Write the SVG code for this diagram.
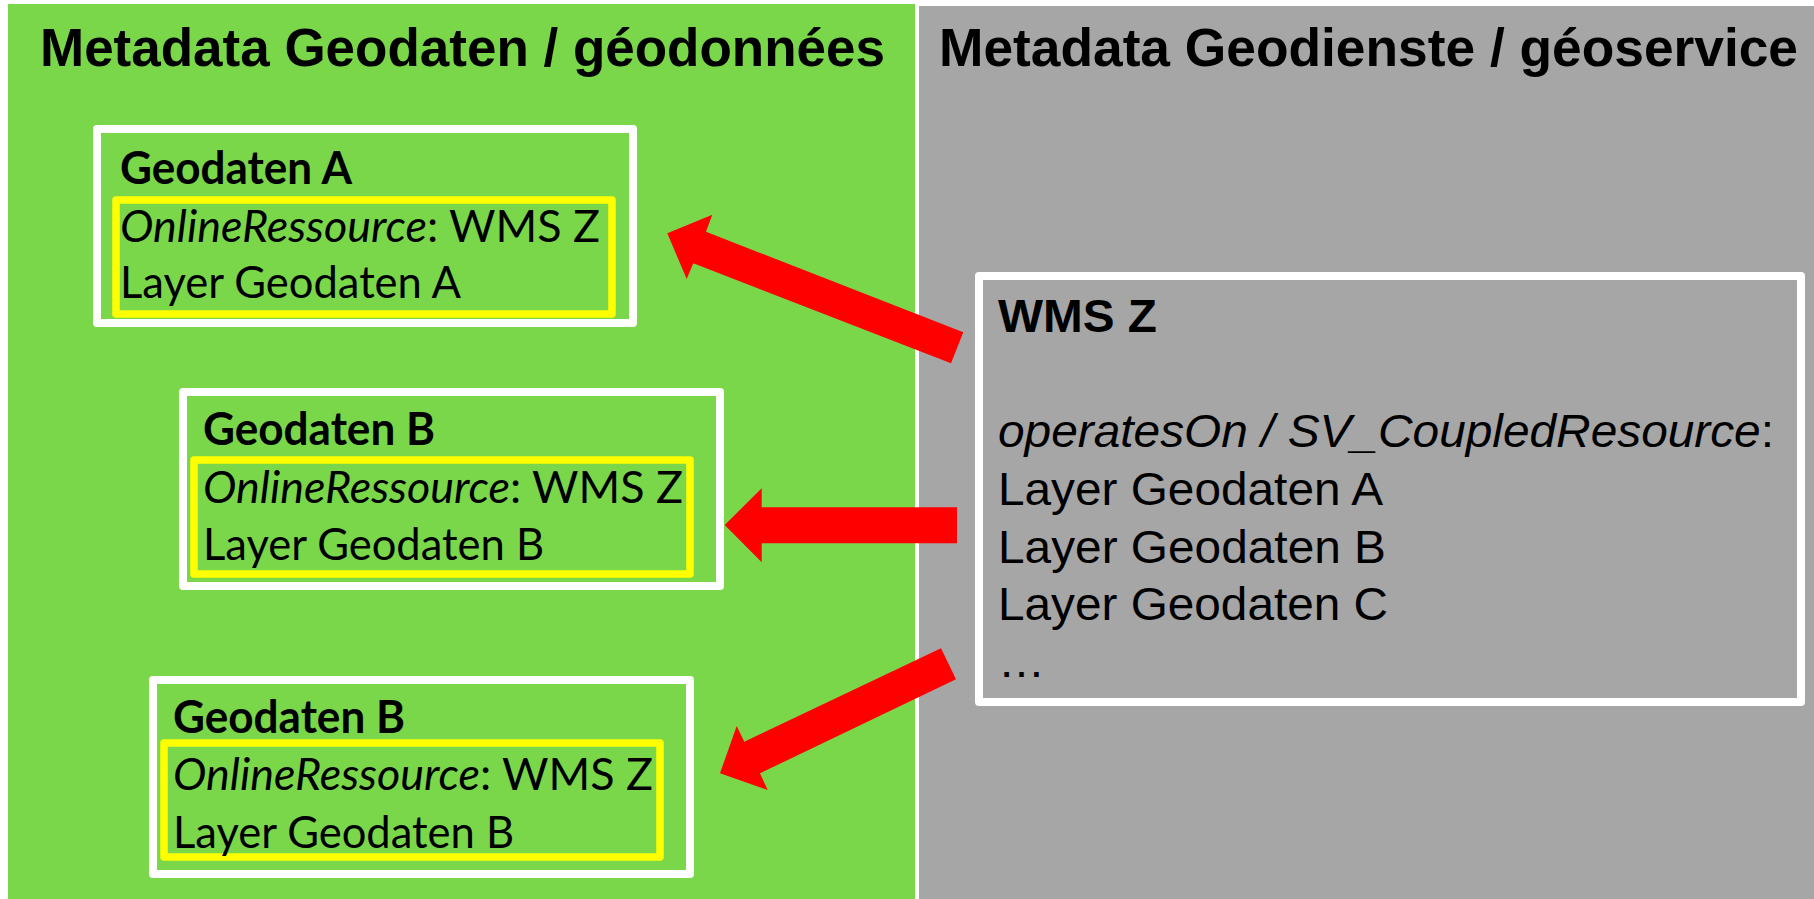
<svg xmlns="http://www.w3.org/2000/svg" width="1814" height="899" viewBox="0 0 1814 899">
<defs>
<style>
.title{font-family:"Liberation Sans",Arial,sans-serif;font-weight:bold;font-size:54px;fill:#000}
.wb{fill:none;stroke:#fff;stroke-width:8;stroke-linejoin:round}
.yb{fill:none;stroke:#ffff00;stroke-width:7.5;stroke-linejoin:round}
.cal{font-family:Lato,"Open Sans",sans-serif;font-size:45px;fill:#000}
.calb{font-family:Lato,"Open Sans",sans-serif;font-size:45px;font-weight:bold;fill:#000}
.ar{font-family:"Liberation Sans",Arial,sans-serif;font-size:47px;fill:#000}
.arb{font-family:"Liberation Sans",Arial,sans-serif;font-size:47px;font-weight:bold;fill:#000}
.arrow{fill:#ff0000}
</style>
</defs>
<rect x="0" y="0" width="1814" height="899" fill="#fff"/>
<g id="panel-geodaten">
<rect x="8" y="4" width="907" height="895" fill="#7ad74a"/>
<text class="title" x="40" y="66" textLength="845" lengthAdjust="spacingAndGlyphs">Metadata Geodaten / géodonnées</text>
</g>
<g id="panel-geodienste">
<rect x="919" y="6" width="895" height="893" fill="#a6a6a6"/>
<text class="title" x="939" y="66" textLength="859" lengthAdjust="spacingAndGlyphs">Metadata Geodienste / géoservice</text>
</g>
<g id="node-geodaten-a">
<rect class="wb" x="97" y="129" width="536" height="194"/>
<rect class="yb" x="116" y="200" width="496" height="114"/>
<text class="calb" x="120" y="184" textLength="232" lengthAdjust="spacingAndGlyphs">Geodaten A</text>
<text class="cal" x="120" y="242" textLength="480" lengthAdjust="spacingAndGlyphs"><tspan font-style="italic">OnlineRessource</tspan>: WMS Z</text>
<text class="cal" x="120" y="298" textLength="341" lengthAdjust="spacingAndGlyphs">Layer Geodaten A</text>
</g>
<g id="node-geodaten-b1">
<rect class="wb" x="183" y="392" width="537" height="194"/>
<rect class="yb" x="194" y="460" width="496" height="114"/>
<text class="calb" x="203" y="445" textLength="232" lengthAdjust="spacingAndGlyphs">Geodaten B</text>
<text class="cal" x="203" y="503" textLength="480" lengthAdjust="spacingAndGlyphs"><tspan font-style="italic">OnlineRessource</tspan>: WMS Z</text>
<text class="cal" x="203" y="560" textLength="341" lengthAdjust="spacingAndGlyphs">Layer Geodaten B</text>
</g>
<g id="node-geodaten-b2">
<rect class="wb" x="153" y="680" width="537" height="194"/>
<rect class="yb" x="164" y="743" width="496" height="114"/>
<text class="calb" x="173" y="733" textLength="232" lengthAdjust="spacingAndGlyphs">Geodaten B</text>
<text class="cal" x="173" y="790" textLength="480" lengthAdjust="spacingAndGlyphs"><tspan font-style="italic">OnlineRessource</tspan>: WMS Z</text>
<text class="cal" x="173" y="848" textLength="341" lengthAdjust="spacingAndGlyphs">Layer Geodaten B</text>
</g>
<g id="node-wms-z">
<rect class="wb" x="979" y="276" width="822" height="426"/>
<text class="arb" x="998" y="332" textLength="159" lengthAdjust="spacingAndGlyphs">WMS Z</text>
<text class="ar" x="998" y="447" textLength="776" lengthAdjust="spacingAndGlyphs"><tspan font-style="italic">operatesOn / SV_CoupledResource</tspan>:</text>
<text class="ar" x="998" y="505" textLength="385" lengthAdjust="spacingAndGlyphs">Layer Geodaten A</text>
<text class="ar" x="998" y="563" textLength="388" lengthAdjust="spacingAndGlyphs">Layer Geodaten B</text>
<text class="ar" x="998" y="620" textLength="390" lengthAdjust="spacingAndGlyphs">Layer Geodaten C</text>
<text class="ar" x="998" y="677">…</text>
</g>
<g id="connectors">
<polygon class="arrow" points="667.3,233.3 712.3,214.7 706,231.7 963.3,332.3 951,363.3 693.3,263.3 686.7,279"/>
<polygon class="arrow" points="724.7,525 761.7,488.3 761.7,507.3 957,507.3 957,543.3 761.7,543.3 761.7,562.3"/>
<polygon class="arrow" points="941,648.3 956,679.3 760,773.3 767.7,790 720,773.3 736.7,726 744.3,741.7"/>
</g>
</svg>
